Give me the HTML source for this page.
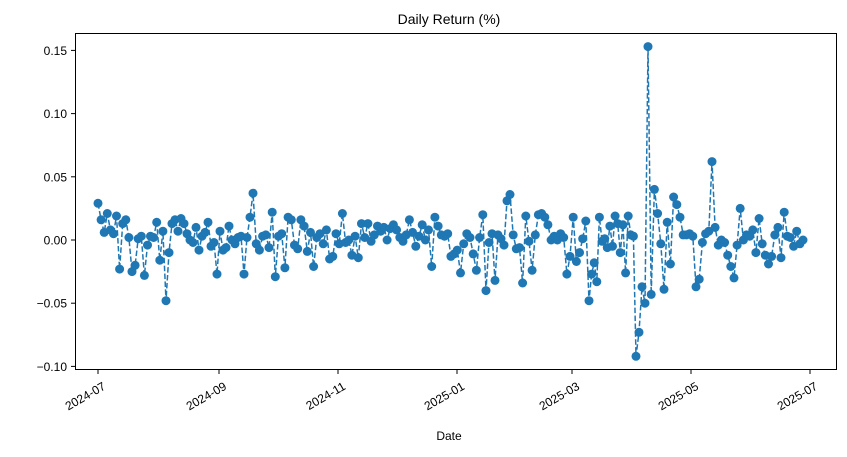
<!DOCTYPE html>
<html><head><meta charset="utf-8"><style>
body{margin:0;background:#fff;width:847px;height:452px;overflow:hidden}
svg text{font-family:"Liberation Sans","DejaVu Sans",sans-serif;fill:#000}
</style></head><body>
<svg id="s" width="847" height="452" xmlns="http://www.w3.org/2000/svg">
<rect x="0" y="0" width="847" height="452" fill="#fff"/>
<text x="449" y="24" font-size="14" text-anchor="middle">Daily Return (%)</text>
<g id="plot"></g>
<rect x="75.5" y="33.5" width="761" height="336" fill="none" stroke="#000" stroke-width="1"/>
<g id="ax" font-size="12"></g>
<text x="449" y="440" font-size="12" text-anchor="middle">Date</text>
</svg>
<script>
var v=[0.029,0.016,0.006,0.021,0.008,0.005,0.019,-0.023,0.013,0.016,0.002,-0.025,-0.020,0.001,0.003,-0.028,-0.004,0.003,0.002,0.014,-0.016,0.007,-0.048,-0.010,0.013,0.016,0.007,0.017,0.013,0.005,0.000,-0.002,0.010,-0.008,0.003,0.006,0.014,-0.005,-0.002,-0.027,0.007,-0.008,-0.006,0.011,0.000,-0.003,0.002,0.003,-0.027,0.002,0.018,0.037,-0.003,-0.008,0.003,0.004,-0.006,0.022,-0.029,0.003,0.005,-0.022,0.018,0.016,-0.004,-0.007,0.016,0.011,-0.009,0.006,-0.021,0.002,0.005,-0.003,0.008,-0.015,-0.013,0.005,-0.003,0.021,-0.002,0.000,-0.012,0.003,-0.014,0.013,0.002,0.013,-0.001,0.004,0.011,0.007,0.010,0.000,0.009,0.012,0.008,0.002,-0.001,0.004,0.016,0.006,-0.005,0.003,0.012,0.000,0.008,-0.021,0.018,0.011,0.004,0.003,0.005,-0.013,-0.011,-0.008,-0.026,-0.003,0.005,0.002,-0.011,-0.024,0.002,0.020,-0.040,-0.002,0.005,-0.032,0.004,0.001,-0.004,0.031,0.036,0.004,-0.007,-0.006,-0.034,0.019,-0.001,-0.024,0.004,0.020,0.021,0.018,0.012,0.000,0.003,0.000,0.005,0.002,-0.027,-0.013,0.018,-0.017,-0.010,0.001,0.015,-0.048,-0.027,-0.018,-0.033,0.018,-0.001,0.001,-0.006,0.011,-0.005,0.019,0.013,-0.010,0.012,-0.026,0.019,0.004,0.003,-0.092,-0.073,-0.037,-0.050,0.153,-0.043,0.040,0.021,-0.003,-0.039,0.014,-0.019,0.034,0.028,0.018,0.004,0.004,0.005,0.003,-0.037,-0.031,-0.002,0.005,0.007,0.062,0.010,-0.004,0.000,-0.002,-0.012,-0.021,-0.030,-0.004,0.025,0.000,0.004,0.003,0.008,-0.010,0.017,-0.003,-0.012,-0.019,-0.013,0.004,0.010,-0.014,0.022,0.003,0.002,-0.005,0.007,-0.003,0.000];
var anchors=[[0,98],[v.indexOf(-0.048),166],[v.indexOf(0.037),253],[v.indexOf(-0.040),486],[v.indexOf(0.036),510],[v.lastIndexOf(-0.048),589],[v.indexOf(-0.092),636],[v.indexOf(0.153),648],[v.indexOf(0.062),712],[v.length-1,803]];
function X(i){for(var k=0;k<anchors.length-1;k++){var a=anchors[k],b=anchors[k+1];if(i>=a[0]&&i<=b[0])return a[1]+(b[1]-a[1])*(i-a[0])/(b[0]-a[0]);}return 803;}
function Y(val){return 240-val*1264;}
var pts=v.map(function(val,i){return X(i).toFixed(1)+","+Y(val).toFixed(1)});
var h='<polyline points="'+pts.join(" ")+'" fill="none" stroke="#1f77b4" stroke-width="1.5" stroke-dasharray="5.5,2.4"/>';
pts.forEach(function(p){var q=p.split(",");h+='<circle cx="'+q[0]+'" cy="'+q[1]+'" r="4.5" fill="#1f77b4"/>';});
document.getElementById("plot").innerHTML=h;
var a='';
[[0.15,"0.15"],[0.10,"0.10"],[0.05,"0.05"],[0,"0.00"],[-0.05,"\u22120.05"],[-0.10,"\u22120.10"]].forEach(function(t){var y=Y(t[0]);a+='<line x1="71" x2="75.5" y1="'+y+'" y2="'+y+'" stroke="#000"/><text x="67" y="'+(y+4.5)+'" text-anchor="end">'+t[1]+'</text>';});
[[98,"2024-07"],[219,"2024-09"],[338,"2024-11"],[457,"2025-01"],[572,"2025-03"],[691,"2025-05"],[810,"2025-07"]].forEach(function(t){a+='<line x1="'+t[0]+'" x2="'+t[0]+'" y1="369.5" y2="374" stroke="#000"/><text transform="translate('+(t[0]+4)+',381) rotate(-30)" text-anchor="end" dominant-baseline="hanging">'+t[1]+'</text>';});
document.getElementById("ax").innerHTML=a;
</script>
</body></html>
